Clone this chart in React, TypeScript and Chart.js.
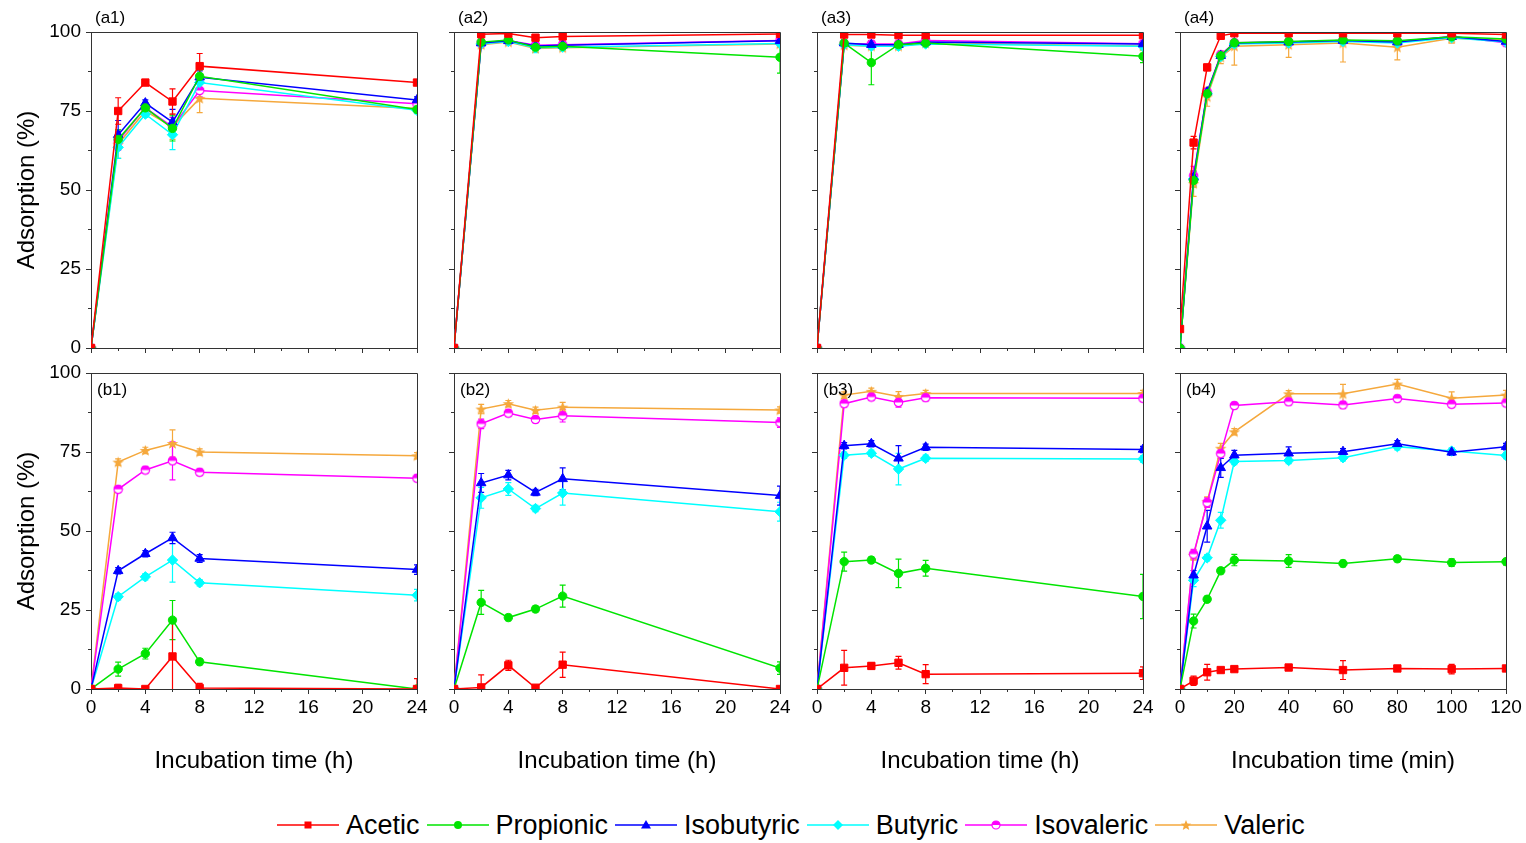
import React, { useEffect, useRef } from 'react';
import { Chart, registerables } from 'chart.js';

Chart.register(...registerables);

const FONT = '"Liberation Sans", Arial, Helvetica, sans-serif';

// ---------- data ----------
const acidNames = ['Acetic', 'Propionic', 'Isobutyric', 'Butyric', 'Isovaleric', 'Valeric'];
const acidColors = ['#FF0000', '#00E400', '#0000FF', '#00FFFF', '#FF00FF', '#F5A83C'];

const hourTimes = [0, 2, 4, 6, 8, 24];
const minuteTimes = [0, 5, 10, 15, 20, 40, 60, 80, 100, 120];
const hourTickLabels = [0, 4, 8, 12, 16, 20, 24];
const minuteTickLabels = [0, 20, 40, 60, 80, 100, 120];
const yTickLabels = [0, 25, 50, 75, 100];
const yTitle = 'Adsorption (%)';
const hourTitle = 'Incubation time (h)';
const minuteTitle = 'Incubation time (min)';

// rows: Acetic, Propionic, Isobutyric, Butyric, Isovaleric, Valeric
const a1Values = [
  [0, 75.0, 84.0, 78.0, 89.2, 84.0],
  [0, 66.0, 76.0, 69.5, 86.0, 75.5],
  [0, 67.5, 77.5, 71.5, 85.7, 78.5],
  [0, 63.5, 74.0, 67.5, 84.0, 75.2],
  [0, 65.5, 76.0, 70.0, 81.5, 77.3],
  [0, 64.5, 75.0, 70.0, 79.0, 75.8],
];
const a1Errors = [
  [0, 4.2, 0.8, 4.0, 4.0, 0.8],
  [0, 3.0, 1.0, 4.0, 2.0, 1.0],
  [0, 4.5, 1.0, 4.0, 2.0, 1.0],
  [0, 3.5, 1.0, 4.7, 2.0, 1.0],
  [0, 3.0, 1.0, 3.0, 2.0, 1.0],
  [0, 4.5, 1.0, 4.0, 4.5, 1.0],
];

const a2Values = [
  [0, 99.3, 99.5, 98.2, 98.6, 99.4],
  [0, 96.8, 97.5, 95.2, 95.5, 92.0],
  [0, 96.5, 97.2, 95.6, 95.8, 97.2],
  [0, 96.2, 97.0, 95.0, 95.2, 96.4],
  [0, 96.5, 97.3, 95.8, 96.0, 97.3],
  [0, 96.0, 96.8, 94.8, 95.0, 96.2],
];
const a2Errors = [
  [0, 1.0, 0.5, 1.0, 1.0, 0.5],
  [0, 1.0, 1.0, 1.0, 1.0, 5.0],
  [0, 1.0, 1.0, 1.0, 1.0, 1.0],
  [0, 1.0, 1.0, 1.5, 1.0, 1.0],
  [0, 1.0, 1.0, 1.0, 1.0, 1.0],
  [0, 1.0, 1.0, 1.0, 1.0, 1.0],
];

const a3Values = [
  [0, 99.2, 99.2, 99.0, 99.0, 99.0],
  [0, 96.5, 90.3, 96.0, 96.5, 92.3],
  [0, 96.5, 96.0, 96.0, 96.8, 96.2],
  [0, 96.0, 95.5, 95.5, 96.2, 95.5],
  [0, 96.3, 96.2, 96.2, 97.3, 96.3],
  [0, 95.8, 95.5, 95.5, 96.5, 95.6],
];
const a3Errors = [
  [0, 0.5, 0.5, 0.5, 0.5, 0.5],
  [0, 1.0, 7.0, 1.0, 1.0, 2.0],
  [0, 1.0, 1.0, 1.0, 1.0, 1.0],
  [0, 1.0, 1.0, 1.0, 1.0, 1.0],
  [0, 1.0, 1.0, 1.0, 1.0, 1.0],
  [0, 1.0, 1.0, 1.0, 1.0, 1.0],
];

const a4Values = [
  [6.0, 65.0, 88.8, 98.8, 99.6, 99.6, 99.6, 99.6, 99.6, 99.2],
  [0, 53.0, 80.5, 92.5, 96.6, 97.0, 97.5, 97.2, 98.5, 97.8],
  [0, 54.0, 81.0, 92.5, 96.5, 96.8, 97.3, 96.8, 98.5, 97.0],
  [0, 53.5, 80.5, 92.2, 96.2, 96.5, 97.0, 96.5, 98.2, 96.8],
  [0, 54.5, 81.0, 92.8, 96.6, 96.8, 97.3, 97.0, 98.6, 96.6],
  [0, 52.0, 79.5, 92.0, 95.5, 96.0, 96.5, 95.2, 98.0, 97.5],
];
const a4Errors = [
  [0, 2.0, 1.0, 0.5, 0.5, 0.5, 0.5, 0.5, 0.5, 0.5],
  [0, 2.0, 1.0, 1.0, 1.0, 1.0, 1.0, 1.0, 1.0, 1.0],
  [0, 2.0, 1.0, 1.0, 1.0, 1.0, 1.0, 1.0, 1.0, 1.0],
  [0, 2.0, 1.0, 1.0, 1.0, 1.0, 1.0, 1.0, 1.0, 1.0],
  [0, 3.0, 1.0, 1.0, 1.0, 1.0, 1.0, 1.0, 1.0, 1.0],
  [0, 4.0, 3.0, 2.0, 6.0, 4.0, 6.0, 4.0, 1.5, 1.0],
];

const b1Values = [
  [0, 0.3, 0, 10.3, 0.3, 0],
  [0, 6.3, 11.2, 21.8, 8.6, 0],
  [0, 37.4, 42.8, 47.8, 41.3, 37.8],
  [0, 29.2, 35.5, 40.8, 33.6, 29.7],
  [0, 63.2, 69.3, 72.2, 68.6, 66.7],
  [0, 71.8, 75.5, 77.7, 75.0, 73.8],
];
const b1Errors = [
  [0, 1.2, 0.3, 10.5, 1.5, 3.3],
  [0, 2.2, 1.7, 6.2, 1.0, 0.5],
  [0, 1.0, 1.0, 1.8, 1.2, 1.5],
  [0, 1.0, 1.0, 7.0, 1.0, 1.8],
  [0, 1.0, 1.0, 6.0, 1.0, 1.0],
  [0, 1.0, 1.0, 4.3, 1.0, 1.0],
];

const b2Values = [
  [0, 0.5, 7.5, 0.4, 7.7, 0],
  [0, 27.4, 22.6, 25.3, 29.4, 6.6],
  [0, 65.2, 67.7, 62.2, 66.5, 61.2],
  [0, 60.5, 63.3, 57.1, 62.0, 56.1],
  [0, 83.9, 87.3, 85.3, 86.5, 84.3],
  [0, 88.6, 90.3, 88.2, 89.2, 88.3],
];
const b2Errors = [
  [0, 4.0, 1.6, 0.5, 4.0, 0.5],
  [0, 3.8, 1.0, 1.0, 3.5, 2.0],
  [0, 3.0, 1.5, 1.0, 3.5, 3.0],
  [0, 3.3, 2.0, 1.0, 3.8, 3.0],
  [0, 1.5, 1.0, 1.0, 2.0, 1.5],
  [0, 1.5, 1.0, 1.0, 1.5, 1.0],
];

const b3Values = [
  [0, 6.7, 7.3, 8.3, 4.7, 5.0],
  [0, 40.3, 40.8, 36.6, 38.2, 29.3],
  [0, 77.0, 77.6, 73.0, 76.5, 75.8],
  [0, 74.0, 74.6, 69.6, 73.0, 72.8],
  [0, 90.3, 92.4, 90.7, 92.2, 92.0],
  [0, 93.0, 94.2, 92.6, 93.5, 93.5],
];
const b3Errors = [
  [0, 5.5, 1.0, 2.0, 3.0, 2.0],
  [0, 3.0, 1.0, 4.5, 2.5, 7.0],
  [0, 1.0, 1.0, 4.0, 1.0, 1.0],
  [0, 1.0, 1.0, 5.0, 1.0, 1.0],
  [0, 1.0, 1.0, 1.5, 1.0, 1.0],
  [0, 1.0, 1.0, 1.5, 1.0, 1.0],
];

const b4Values = [
  [0, 2.6, 5.3, 6.0, 6.3, 6.8, 6.0, 6.5, 6.3, 6.5],
  [0, 21.5, 28.4, 37.4, 40.8, 40.5, 39.7, 41.2, 40.0, 40.3],
  [0, 36.0, 51.5, 70.0, 74.0, 74.6, 75.1, 77.6, 74.9, 76.7],
  [0, 34.4, 41.5, 53.4, 72.0, 72.3, 73.2, 76.7, 75.3, 73.9],
  [0, 42.7, 59.0, 74.5, 89.7, 90.9, 89.9, 91.9, 90.1, 90.5],
  [0, 42.3, 59.3, 76.2, 81.4, 93.4, 93.4, 96.5, 92.0, 93.0],
];
const b4Errors = [
  [0, 1.5, 2.5, 0.5, 0.5, 0.8, 3.0, 0.5, 1.5, 0.8],
  [0, 2.2, 1.0, 1.0, 1.8, 2.0, 1.0, 1.0, 1.2, 1.0],
  [0, 1.5, 5.0, 3.0, 1.5, 2.0, 1.0, 1.0, 1.0, 1.0],
  [0, 2.0, 1.0, 2.5, 1.0, 1.0, 1.0, 1.0, 1.0, 1.0],
  [0, 1.5, 1.5, 1.5, 1.0, 1.0, 1.0, 1.0, 1.0, 1.0],
  [0, 1.5, 1.5, 1.5, 1.0, 1.0, 3.0, 1.5, 2.0, 1.5],
];

// ---------- layout ----------
const COL_LEFT = [91, 454, 817, 1180];
const ROW_TOP = [32, 373];
const PW = 326;
const PH = 316;
const PAD_L = 80;
const PAD_T = 25;
const PAD_R = 25;
const PAD_B = 90;

type PanelDef = {
  label: string;
  row: number;
  col: number;
  times: number[];
  values: number[][];
  errors: number[][];
  minutes: boolean;
};

const panels: PanelDef[] = [
  { label: '(a1)', row: 0, col: 0, times: hourTimes, values: a1Values, errors: a1Errors, minutes: false },
  { label: '(a2)', row: 0, col: 1, times: hourTimes, values: a2Values, errors: a2Errors, minutes: false },
  { label: '(a3)', row: 0, col: 2, times: hourTimes, values: a3Values, errors: a3Errors, minutes: false },
  { label: '(a4)', row: 0, col: 3, times: minuteTimes, values: a4Values, errors: a4Errors, minutes: true },
  { label: '(b1)', row: 1, col: 0, times: hourTimes, values: b1Values, errors: b1Errors, minutes: false },
  { label: '(b2)', row: 1, col: 1, times: hourTimes, values: b2Values, errors: b2Errors, minutes: false },
  { label: '(b3)', row: 1, col: 2, times: hourTimes, values: b3Values, errors: b3Errors, minutes: false },
  { label: '(b4)', row: 1, col: 3, times: minuteTimes, values: b4Values, errors: b4Errors, minutes: true },
];

// ---------- marker images ----------
let markerCache: any[] | null = null;
function getMarkers() {
  if (markerCache) return markerCache;
  const half = document.createElement('canvas');
  half.width = 11;
  half.height = 11;
  {
    const c = half.getContext('2d')!;
    const cx = 5.5, cy = 5.5, r = 4.2;
    c.beginPath();
    c.arc(cx, cy, r, 0, Math.PI * 2);
    c.fillStyle = '#fff';
    c.fill();
    c.beginPath();
    c.arc(cx, cy, r, Math.PI, Math.PI * 2);
    c.closePath();
    c.fillStyle = acidColors[4];
    c.fill();
    c.beginPath();
    c.arc(cx, cy, r, 0, Math.PI * 2);
    c.lineWidth = 1.2;
    c.strokeStyle = acidColors[4];
    c.stroke();
  }
  const star = document.createElement('canvas');
  star.width = 13;
  star.height = 13;
  {
    const c = star.getContext('2d')!;
    const cx = 6.5, cy = 7, ro = 6, ri = 2.6;
    c.beginPath();
    for (let k = 0; k < 10; k++) {
      const rr = k % 2 === 0 ? ro : ri;
      const ang = -Math.PI / 2 + (k * Math.PI) / 5;
      const px = cx + rr * Math.cos(ang);
      const py = cy + rr * Math.sin(ang);
      if (k === 0) c.moveTo(px, py);
      else c.lineTo(px, py);
    }
    c.closePath();
    c.fillStyle = acidColors[5];
    c.fill();
  }
  markerCache = ['rect', 'circle', 'triangle', 'rectRot', half, star];
  return markerCache;
}
const markerRadius = [5.2, 4.2, 5.5, 5.2, 4.5, 6];

function alignPx(v: number) {
  return Math.round(v - 0.5) + 0.5;
}

function midpoints(arr: number[]) {
  const out: number[] = [];
  for (let i = 0; i < arr.length - 1; i++) out.push((arr[i] + arr[i + 1]) / 2);
  return out;
}

function makeErrorPlugin(p: PanelDef) {
  return {
    id: 'errorBars',
    beforeDatasetsDraw(chart: any) {
      const { ctx, chartArea: a, scales } = chart;
      ctx.save();
      ctx.beginPath();
      ctx.rect(a.left, a.top, a.right - a.left, a.bottom - a.top);
      ctx.clip();
      for (let i = p.values.length - 1; i >= 0; i--) {
        ctx.strokeStyle = acidColors[i];
        ctx.lineWidth = 1.2;
        p.values[i].forEach((v, j) => {
          const e = p.errors[i][j];
          if (!e) return;
          const x = scales.x.getPixelForValue(p.times[j]);
          const y1 = scales.y.getPixelForValue(v + e);
          const y2 = scales.y.getPixelForValue(v - e);
          ctx.beginPath();
          ctx.moveTo(x, y1);
          ctx.lineTo(x, y2);
          ctx.moveTo(x - 3, y1);
          ctx.lineTo(x + 3, y1);
          ctx.moveTo(x - 3, y2);
          ctx.lineTo(x + 3, y2);
          ctx.stroke();
        });
      }
      ctx.restore();
    },
  };
}

function makeDecorPlugin(p: PanelDef) {
  const xTicks = p.minutes ? minuteTickLabels : hourTickLabels;
  return {
    id: 'decor',
    afterDraw(chart: any) {
      const { ctx, chartArea: a, scales } = chart;
      ctx.save();
      ctx.strokeStyle = '#333';
      ctx.lineWidth = 1;
      ctx.beginPath();
      const top = alignPx(a.top);
      const right = alignPx(a.right);
      const left = alignPx(a.left);
      const bottom = alignPx(a.bottom);
      ctx.moveTo(left, top);
      ctx.lineTo(right, top);
      ctx.moveTo(right, top);
      ctx.lineTo(right, bottom);
      midpoints(xTicks).forEach((v) => {
        const x = alignPx(scales.x.getPixelForValue(v));
        ctx.moveTo(x, a.bottom);
        ctx.lineTo(x, a.bottom + 3);
      });
      midpoints(yTickLabels).forEach((v) => {
        const y = alignPx(scales.y.getPixelForValue(v));
        ctx.moveTo(a.left - 3, y);
        ctx.lineTo(a.left, y);
      });
      ctx.stroke();
      ctx.fillStyle = '#000';
      ctx.font = `17px ${FONT}`;
      ctx.textBaseline = 'middle';
      ctx.textAlign = 'left';
      if (p.row === 0) ctx.fillText(p.label, a.left + 4, a.top - 14);
      else ctx.fillText(p.label, a.left + 6, a.top + 17);
      ctx.restore();
    },
  };
}

function Panel({ p }: { p: PanelDef }) {
  const ref = useRef<HTMLCanvasElement>(null);
  const W = PAD_L + PW + PAD_R;
  const H = PAD_T + PH + PAD_B;
  useEffect(() => {
    if (!ref.current) return;
    const markers = getMarkers();
    const xTicks = p.minutes ? minuteTickLabels : hourTickLabels;
    const datasets = p.values.map((series, i) => ({
      label: acidNames[i],
      data: series.map((v, j) => ({ x: p.times[j], y: v })),
      borderColor: acidColors[i],
      backgroundColor: acidColors[i],
      borderWidth: 1.5,
      pointStyle: markers[i],
      pointRadius: markerRadius[i],
      pointBorderWidth: 1,
      pointBackgroundColor: acidColors[i],
      pointBorderColor: acidColors[i],
      tension: 0,
      clip: 0,
    }));
    const tickFont = { family: FONT, size: 19 };
    const chart = new Chart(ref.current, {
      type: 'line',
      data: { datasets },
      plugins: [makeErrorPlugin(p), makeDecorPlugin(p)],
      options: {
        animation: false,
        responsive: false,
        events: [],
        layout: { padding: { left: 0, top: PAD_T, right: PAD_R, bottom: 0 } },
        plugins: { legend: { display: false }, tooltip: { enabled: false } },
        scales: {
          x: {
            type: 'linear',
            min: 0,
            max: xTicks[xTicks.length - 1],
            afterBuildTicks: (s: any) => {
              s.ticks = xTicks.map((v) => ({ value: v }));
            },
            afterFit: (s: any) => {
              s.height = PAD_B;
            },
            ticks: {
              display: p.row === 1,
              font: tickFont,
              color: '#000',
              padding: 2,
              maxRotation: 0,
              autoSkip: false,
            },
            grid: { drawOnChartArea: false, drawTicks: true, tickLength: 5, tickColor: '#333', tickWidth: 1 },
            border: { display: true, color: '#333', width: 1 },
            title: {
              display: p.row === 1,
              text: p.minutes ? minuteTitle : hourTitle,
              font: { family: FONT, size: 24 },
              color: '#000',
              padding: { top: 0, bottom: 3 },
            },
          },
          y: {
            type: 'linear',
            min: 0,
            max: 100,
            afterBuildTicks: (s: any) => {
              s.ticks = yTickLabels.map((v) => ({ value: v }));
            },
            afterFit: (s: any) => {
              s.width = PAD_L;
            },
            ticks: { display: p.col === 0, font: tickFont, color: '#000', padding: 5 },
            grid: { drawOnChartArea: false, drawTicks: true, tickLength: 5, tickColor: '#333', tickWidth: 1 },
            border: { display: true, color: '#333', width: 1 },
            title: {
              display: p.col === 0,
              text: yTitle,
              font: { family: FONT, size: 24 },
              color: '#000',
              padding: { top: 2, bottom: 0 },
            },
          },
        },
      } as any,
    });
    return () => chart.destroy();
  }, []);
  return (
    <canvas
      ref={ref}
      width={W}
      height={H}
      style={{
        position: 'absolute',
        left: COL_LEFT[p.col] - PAD_L,
        top: ROW_TOP[p.row] - PAD_T,
        width: W,
        height: H,
      }}
    />
  );
}

function LegendMarker({ i }: { i: number }) {
  const c = acidColors[i];
  let shape: any = null;
  if (i === 0) shape = <rect x={27.5} y={6.5} width={7} height={7} fill={c} />;
  else if (i === 1) shape = <circle cx={31} cy={10} r={4} fill={c} />;
  else if (i === 2) shape = <polygon points="31,5 36,13.5 26,13.5" fill={c} />;
  else if (i === 3) shape = <polygon points="31,5 36,10 31,15 26,10" fill={c} />;
  else if (i === 4)
    shape = (
      <g>
        <circle cx={31} cy={10} r={4} fill="#fff" stroke={c} strokeWidth={1.2} />
        <path d="M27,10 A4,4 0 0 1 35,10 Z" fill={c} />
      </g>
    );
  else {
    const pts: string[] = [];
    for (let k = 0; k < 10; k++) {
      const rr = k % 2 === 0 ? 5.5 : 2.4;
      const ang = -Math.PI / 2 + (k * Math.PI) / 5;
      pts.push(`${(31 + rr * Math.cos(ang)).toFixed(2)},${(10.5 + rr * Math.sin(ang)).toFixed(2)}`);
    }
    shape = <polygon points={pts.join(' ')} fill={c} />;
  }
  return (
    <svg width={62} height={20} style={{ display: 'block', flex: 'none' }}>
      <line x1={0} y1={10} x2={62} y2={10} stroke={c} strokeWidth={1.5} />
      {shape}
    </svg>
  );
}

export default function App() {
  return (
    <div
      style={{
        position: 'absolute',
        left: 0,
        top: 0,
        width: 1526,
        height: 843,
        background: '#fff',
        overflow: 'hidden',
      }}
    >
      {panels.map((p) => (
        <Panel key={p.label} p={p} />
      ))}
      <div
        style={{
          position: 'absolute',
          left: 277,
          top: 808,
          height: 34,
          display: 'flex',
          alignItems: 'center',
          fontFamily: FONT,
          fontSize: 27,
          color: '#000',
          whiteSpace: 'nowrap',
        }}
      >
        {acidNames.map((n, i) => (
          <React.Fragment key={n}>
            <LegendMarker i={i} />
            <span style={{ marginLeft: 7, marginRight: 7, lineHeight: '34px' }}>{n}</span>
          </React.Fragment>
        ))}
      </div>
    </div>
  );
}
